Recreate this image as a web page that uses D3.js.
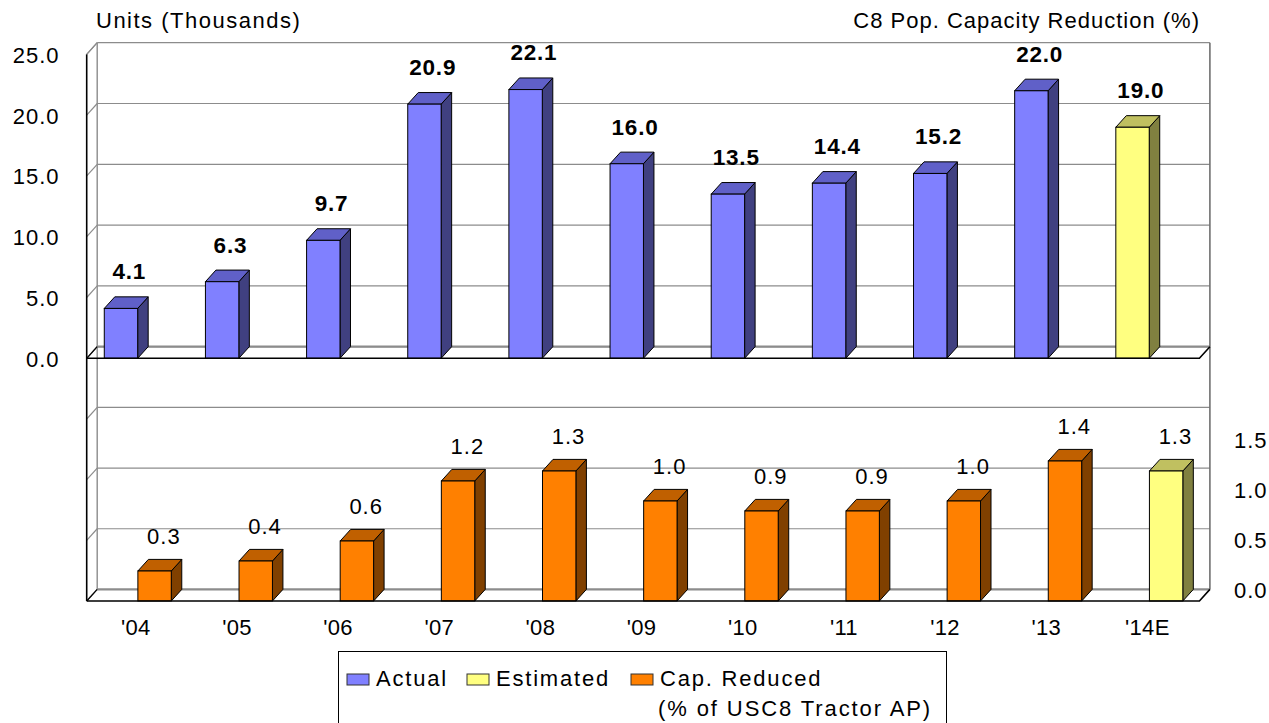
<!DOCTYPE html>
<html>
<head>
<meta charset="utf-8">
<script src="https://cdn.jsdelivr.net/npm/d3@7"></script>
<style>
  html, body { margin: 0; padding: 0; background: #fff; }
  svg text { font-family: "Liberation Sans", Arial, sans-serif; fill: #000; }
</style>
</head>
<body>
<svg id="chart" width="1269" height="723"></svg>
<script>
// Categories (years, last one estimated)
const categories = ["'04", "'05", "'06", "'07", "'08", "'09", "'10", "'11", "'12", "'13", "'14E"];
// Class 8 units (thousands)
const units = [4.1, 6.3, 9.7, 20.9, 22.1, 16.0, 13.5, 14.4, 15.2, 22.0, 19.0];
// Capacity reduced (% of US C8 tractor active population)
const capReduced = [0.3, 0.4, 0.6, 1.2, 1.3, 1.0, 0.9, 0.9, 1.0, 1.4, 1.3];
// Which categories are estimates
const estimated = [false, false, false, false, false, false, false, false, false, false, true];
// Tick values
const unitTicks = [0, 5, 10, 15, 20, 25];
const capTicks = [0, 0.5, 1.0, 1.5];
const lowerGridTicks = [0, 0.5, 1.0, 1.5, 2.0];
const legendItems = ["Actual", "Estimated", "Cap. Reduced"];

const svg = d3.select("#chart");
const FS = 22;

// oblique depth of the 3D frame
const DX = 10.5, DY = 11.6;
const barW = 33.4;

const x = d3.scaleBand().domain(categories).range([86.7, 1199.4]).paddingInner(0).paddingOuter(0);
const cx = c => x(c) + x.bandwidth() / 2;

// back-wall coordinates
const yUnits = d3.scaleLinear().domain([0, 25]).range([346.7, 42.7]);
const yCap = d3.scaleLinear().domain([0, 1.5]).range([589.4, 439.4]);
const yGridLow = d3.scaleLinear().domain([0, 2]).range([589.4, 346.7]);

const frontL = 86.7, frontR = 1199.4;
const backL = frontL + DX, backR = frontR + DX;

const colors = {
  actual:   { front: "#8080ff", top: "#6060c8", side: "#404080" },
  estimate: { front: "#ffff80", top: "#c0c060", side: "#808040" },
  cap:      { front: "#ff8000", top: "#c06000", side: "#804000" }
};

const grid = svg.append("g");
const gridColor = "#8c8c8c";

function wallGrid(scale, ticks) {
  ticks.forEach(t => {
    const yb = scale(t);
    grid.append("line").attr("x1", backL).attr("x2", backR).attr("y1", yb).attr("y2", yb)
      .attr("stroke", gridColor).attr("stroke-width", t === 0 ? 2.2 : 1.2);
    grid.append("line").attr("x1", frontL).attr("x2", backL).attr("y1", yb + DY).attr("y2", yb)
      .attr("stroke", gridColor).attr("stroke-width", 1.2);
  });
}
wallGrid(yUnits, unitTicks);
wallGrid(yGridLow, lowerGridTicks);

// back-wall vertical edges
grid.append("line").attr("x1", backL).attr("x2", backL).attr("y1", yUnits(25)).attr("y2", yGridLow(0))
  .attr("stroke", gridColor).attr("stroke-width", 1.4);
grid.append("line").attr("x1", backR).attr("x2", backR).attr("y1", yUnits(25)).attr("y2", yGridLow(0))
  .attr("stroke", "#707070").attr("stroke-width", 1.6);

// 3D column
function column(g, xLeft, yBackBase, yBackTop, pal) {
  const fb = yBackBase + DY, ft = yBackTop + DY;
  const pts = a => a.map(p => p.join(",")).join(" ");
  g.append("polygon").attr("points", pts([[xLeft + barW, fb], [xLeft + barW + DX, fb - DY], [xLeft + barW + DX, ft - DY], [xLeft + barW, ft]]))
    .attr("fill", pal.side).attr("stroke", "#000").attr("stroke-width", 1).attr("stroke-linejoin", "round");
  g.append("polygon").attr("points", pts([[xLeft, ft], [xLeft + DX, ft - DY], [xLeft + barW + DX, ft - DY], [xLeft + barW, ft]]))
    .attr("fill", pal.top).attr("stroke", "#000").attr("stroke-width", 1).attr("stroke-linejoin", "round");
  g.append("rect").attr("x", xLeft).attr("y", ft).attr("width", barW).attr("height", fb - ft)
    .attr("fill", pal.front).attr("stroke", "#000").attr("stroke-width", 1);
}

const bars = svg.append("g");
categories.forEach((c, i) => {
  // upper panel: units
  const xl = cx(c) - 33;
  column(bars, xl, yUnits(0), yUnits(units[i]), estimated[i] ? colors.estimate : colors.actual);
  bars.append("text").attr("x", xl + 25).attr("y", yUnits(units[i]) - 17.5)
    .attr("text-anchor", "middle").attr("font-size", 22.5).attr("font-weight", "bold")
    .attr("letter-spacing", 0.8).text(units[i].toFixed(1));
  // lower panel: capacity reduced
  const xl2 = cx(c) + 0.6;
  column(bars, xl2, yCap(0), yCap(capReduced[i]), estimated[i] ? colors.estimate : colors.cap);
  bars.append("text").attr("x", xl2 + 26).attr("y", yCap(capReduced[i]) - 15.7)
    .attr("text-anchor", "middle").attr("font-size", FS)
    .attr("letter-spacing", 1).text(capReduced[i].toFixed(1));
});

// front edges of the frame
const edges = svg.append("g").attr("stroke", "#000").attr("fill", "none").attr("stroke-width", 1.6);
[yUnits(0), yGridLow(0)].forEach(yb => {
  edges.append("path").attr("d", `M${frontL},${yb + DY}H${frontR}L${backR},${yb}`);
  edges.append("line").attr("x1", frontL).attr("x2", backL).attr("y1", yb + DY).attr("y2", yb).attr("stroke-width", 1.2);
});
edges.append("line").attr("x1", frontL).attr("x2", frontL).attr("y1", yUnits(25) + DY).attr("y2", yGridLow(0) + DY);
edges.append("line").attr("x1", frontL).attr("x2", backL).attr("y1", yUnits(25) + DY).attr("y2", yUnits(25))
  .attr("stroke", gridColor).attr("stroke-width", 1.2);

// left axis (units), labels at the front plane
const leftAxis = svg.append("g").attr("transform", `translate(59.5,${DY})`)
  .call(d3.axisLeft(yUnits).tickValues(unitTicks).tickFormat(d3.format(".1f")).tickSize(0).tickPadding(0));
leftAxis.select(".domain").remove();
leftAxis.selectAll("text").attr("font-size", FS).attr("letter-spacing", 1)
  .attr("font-family", "Liberation Sans, Arial, sans-serif").attr("fill", "#000").attr("dy", "0.36em");

// right axis (capacity reduced %)
const rightAxis = svg.append("g").attr("transform", "translate(1234,0)")
  .call(d3.axisRight(yCap).tickValues(capTicks).tickFormat(d3.format(".1f")).tickSize(0).tickPadding(0));
rightAxis.select(".domain").remove();
rightAxis.selectAll("text").attr("font-size", FS).attr("letter-spacing", 1)
  .attr("font-family", "Liberation Sans, Arial, sans-serif").attr("fill", "#000").attr("dy", "0.36em");

// category axis
const bottomAxis = svg.append("g").attr("transform", "translate(-1.5,619)")
  .call(d3.axisBottom(x).tickSize(0).tickPadding(0));
bottomAxis.select(".domain").remove();
bottomAxis.selectAll("text").attr("font-size", FS).attr("letter-spacing", 0.3)
  .attr("font-family", "Liberation Sans, Arial, sans-serif").attr("fill", "#000").attr("dy", "0.71em");

// titles
svg.append("text").attr("x", 96).attr("y", 28).attr("font-size", FS).attr("letter-spacing", 1.5)
  .text("Units (Thousands)");
svg.append("text").attr("x", 1200).attr("y", 28).attr("font-size", FS).attr("letter-spacing", 1.0)
  .attr("text-anchor", "end").text("C8 Pop. Capacity Reduction (%)");

// legend
const lg = svg.append("g");
lg.append("rect").attr("x", 338.5).attr("y", 651.5).attr("width", 608).attr("height", 90)
  .attr("fill", "#fff").attr("stroke", "#000").attr("stroke-width", 1);
const legendSwatch = [colors.actual.front, colors.estimate.front, colors.cap.front];
const legendX = [347, 467, 631];
legendItems.forEach((t, i) => {
  lg.append("rect").attr("x", legendX[i]).attr("y", 674).attr("width", 22).attr("height", 11)
    .attr("fill", legendSwatch[i]).attr("stroke", "#333").attr("stroke-width", 1);
  lg.append("text").attr("x", legendX[i] + 29).attr("y", 686).attr("font-size", FS)
    .attr("letter-spacing", 1.8).text(t);
});
lg.append("text").attr("x", 658).attr("y", 716).attr("font-size", FS).attr("letter-spacing", 1.9)
  .text("(% of USC8 Tractor AP)");
</script>
</body>
</html>
